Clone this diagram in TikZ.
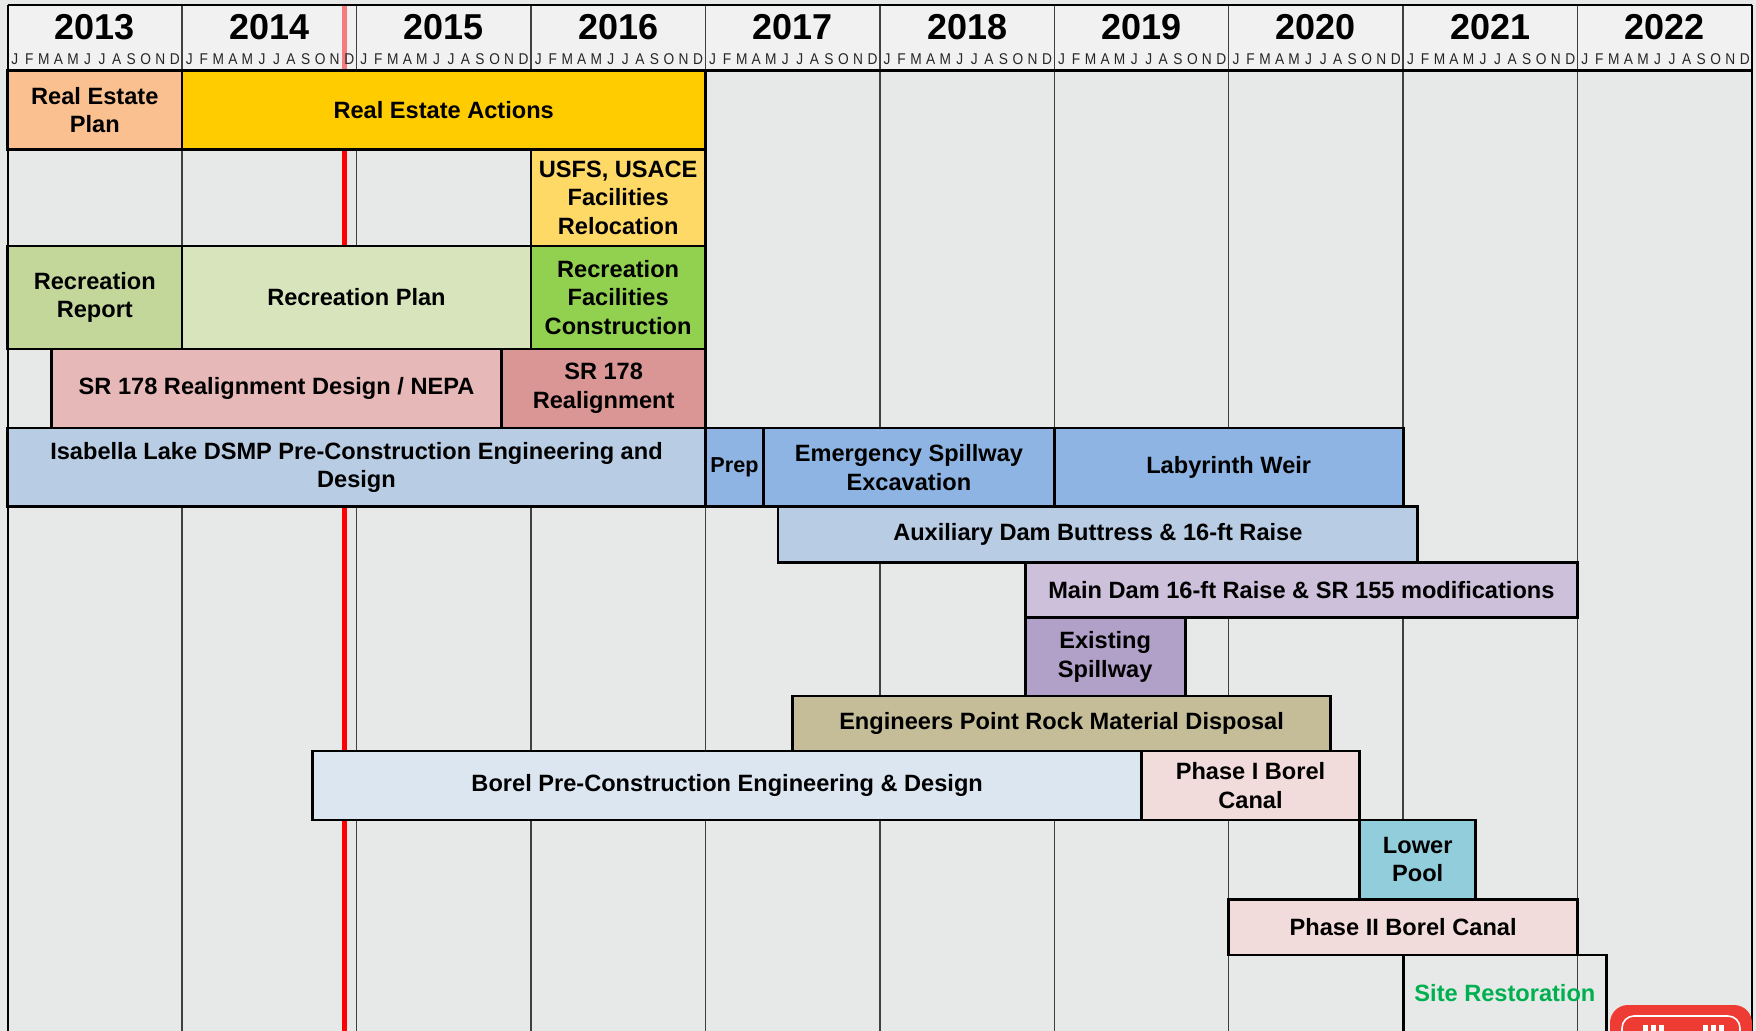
\documentclass[tikz,border=0pt]{standalone}
\usepackage{fontspec}
\setmainfont{Liberation Sans}
\definecolor{bgc}{HTML}{E6E9E8}
\definecolor{hdc}{HTML}{F0F1F0}
\definecolor{cREP}{HTML}{FAC090}
\definecolor{cREA}{HTML}{FFCC00}
\definecolor{cUSFS}{HTML}{FFD966}
\definecolor{cRR}{HTML}{C4D79B}
\definecolor{cRP}{HTML}{D8E4BC}
\definecolor{cRFC}{HTML}{92D050}
\definecolor{cSRD}{HTML}{E6B8B7}
\definecolor{cSR}{HTML}{DA9694}
\definecolor{cISA}{HTML}{B8CCE4}
\definecolor{cBLU}{HTML}{8DB4E2}
\definecolor{cMDR}{HTML}{CCC0DA}
\definecolor{cEXS}{HTML}{B1A0C7}
\definecolor{cEPR}{HTML}{C4BD97}
\definecolor{cBPC}{HTML}{DCE6F1}
\definecolor{cPB}{HTML}{F2DCDB}
\definecolor{cLP}{HTML}{92CDDC}
\definecolor{cGRN}{HTML}{00B050}
\definecolor{cRED}{HTML}{FF0000}
\definecolor{cREDh}{HTML}{F47C7C}
\definecolor{cLOGO}{HTML}{EE3B33}
\newcommand\gbar[7]{%
  \pgfmathsetmacro\gxa{7.6+14.537*(#2)}%
  \pgfmathsetmacro\gxb{7.6+14.537*(#3)}%
  \pgfmathsetmacro\gxc{(\gxa+\gxb)/2}%
  \pgfmathsetmacro\gyc{(#4+#5)/2}%
  \path[barline,fill=#6] (\gxa,#4) rectangle (\gxb,#5);
  \node[bartext] (#1) at (\gxc,\gyc) {#7};}
\begin{document}
\begin{tikzpicture}[x=0.5pt,y=-0.5pt,
  barline/.style={draw=black,line width=1.4pt},
  bartext/.style={font=\bfseries\fontsize{11.8}{14.3}\selectfont,align=center,text=black,inner sep=0pt},
  yeartext/.style={font=\bfseries\fontsize{18}{20}\selectfont,inner sep=0pt},
  monthtext/.style={font=\fontsize{7.8}{8}\selectfont,inner sep=0pt,text=black!85},
  yearline/.style={draw=black!75,line width=0.75pt},
  frameline/.style={draw=black,line width=1pt}]
\useasboundingbox (0,0) rectangle (1756,1031);
\clip (0,0) rectangle (1756,1031);
\fill[bgc] (0,0) rectangle (1756,1031);
\fill[hdc] (7.6,4.7) rectangle (1752,70.5);
% year grid lines
\foreach \i in {0,...,10} {\draw[yearline] ({7.6+174.444*\i},4.7) -- ({7.6+174.444*\i},1031);}
% today line
\draw[cREDh,line width=2.5pt] (344,4.7) -- (344,70.5);
\draw[cRED,line width=2.5pt] (344,70.5) -- (344,1031);
% header frame
\draw[frameline] (7.6,4.7) -- (1752,4.7);
\draw[draw=black,line width=1.4pt] (7.6,70.5) -- (1752,70.5);
\draw[frameline] (7.6,4.7) -- (7.6,1031);
\draw[frameline] (1752,4.7) -- (1752,1031);
% years and months
\foreach \i in {0,...,9} {
  \pgfmathtruncatemacro\yr{2013+\i}
  \node[yeartext] (y\yr) at ({7.6+174.444*(\i+0.5)},27) {\yr};
  \foreach \l [count=\j from 0] in {J,F,M,A,M,J,J,A,S,O,N,D}
    \node[monthtext] (m\i-\j) at ({7.6+14.537*(12*\i+\j+0.5)},59) {\scalebox{0.88}[1]{\l}};
}
% bars
\gbar{rep}{0}{12}{70.5}{149.3}{cREP}{Real Estate\\Plan}
\gbar{rea}{12}{48}{70.5}{149.3}{cREA}{Real Estate Actions}
\gbar{usfs}{36}{48}{149.3}{246}{cUSFS}{USFS, USACE\\Facilities\\Relocation}
\gbar{rr}{0}{12}{246}{349}{cRR}{Recreation\\Report}
\gbar{rp}{12}{36}{246}{349}{cRP}{Recreation Plan}
\gbar{rfc}{36}{48}{246}{349}{cRFC}{Recreation\\Facilities\\Construction}
\gbar{srd}{3}{34}{349}{428}{cSRD}{SR 178 Realignment Design / NEPA}
\gbar{sr}{34}{48}{349}{428}{cSR}{SR 178\\Realignment}
\gbar{isa}{0}{48}{428}{506.7}{cISA}{Isabella Lake DSMP Pre-Construction Engineering and\\Design}
\gbar{prep}{48}{52}{428}{506.7}{cBLU}{\fontsize{10.8}{13}\selectfont Prep}
\gbar{esp}{52}{72}{428}{506.7}{cBLU}{Emergency Spillway\\Excavation}
\gbar{lab}{72}{96}{428}{506.7}{cBLU}{Labyrinth Weir}
\gbar{aux}{53}{97}{506.7}{562.7}{cISA}{Auxiliary Dam Buttress \& 16-ft Raise}
\gbar{mdr}{70}{108}{562.7}{617.7}{cMDR}{Main Dam 16-ft Raise \& SR 155 modifications}
\gbar{exs}{70}{81}{617.7}{696}{cEXS}{Existing\\Spillway}
\gbar{epr}{54}{91}{696}{751}{cEPR}{Engineers Point Rock Material Disposal}
\gbar{bpc}{21}{78}{751}{820}{cBPC}{Borel Pre-Construction Engineering \& Design}
\gbar{pib}{78}{93}{751}{820}{cPB}{Phase I Borel\\Canal}
\gbar{lp}{93}{101}{820}{899.3}{cLP}{Lower\\Pool}
\gbar{pii}{84}{108}{899.3}{955}{cPB}{Phase II Borel Canal}
% site restoration (open box)
\draw[barline] ({7.6+14.537*96},1040) -- ({7.6+14.537*96},955) -- ({7.6+14.537*110},955) -- ({7.6+14.537*110},1040);
\node[bartext,text=cGRN] (sres) at ({7.6+14.537*103},993) {Site Restoration};
% logo
\fill[cLOGO,rounded corners=9] (1610,1005) rectangle (1752,1060);
\draw[white,line width=0.8pt,rounded corners=6] (1622,1016) rectangle (1740,1060);
\foreach \x in {1643,1651,1659,1703,1711,1719} {\fill[white] (\x,1025) rectangle (\x+5,1031);}
\end{tikzpicture}
\end{document}
